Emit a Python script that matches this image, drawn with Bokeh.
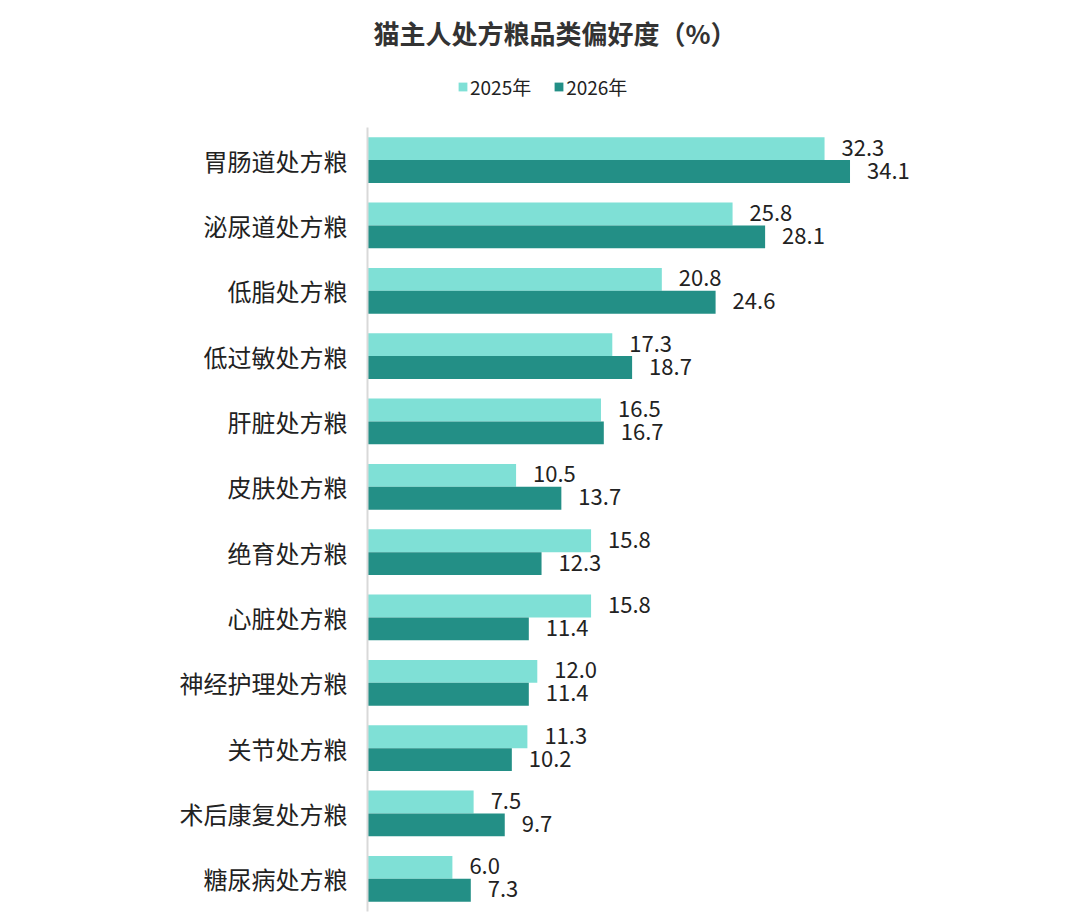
from bokeh.plotting import figure
from bokeh.models import ColumnDataSource, Range1d, Legend, LegendItem, FixedTicker
from bokeh.core.properties import value
from bokeh.embed import file_html
from bokeh.resources import INLINE

categories = ["胃肠道处方粮", "泌尿道处方粮", "低脂处方粮", "低过敏处方粮", "肝脏处方粮",
              "皮肤处方粮", "绝育处方粮", "心脏处方粮", "神经护理处方粮", "关节处方粮",
              "术后康复处方粮", "糖尿病处方粮"]
v2025 = [32.3, 25.8, 20.8, 17.3, 16.5, 10.5, 15.8, 15.8, 12.0, 11.3, 7.5, 6.0]
v2026 = [34.1, 28.1, 24.6, 18.7, 16.7, 13.7, 12.3, 11.4, 11.4, 10.2, 9.7, 7.3]
years = ["2025年", "2026年"]
colors = ["#7fe0d6", "#238f86"]

font = "Noto Sans CJK SC"

# category slots, first category on top
n = len(categories)
pos = [n - i - 0.5 for i in range(n)]
bar_h = 0.35

source = ColumnDataSource(dict(
    y25=[y + bar_h / 2 for y in pos],
    y26=[y - bar_h / 2 for y in pos],
    v2025=v2025,
    v2026=v2026,
    t2025=["%.1f" % v for v in v2025],
    t2026=["%.1f" % v for v in v2026],
))

# extra room above the bars for the legend
top_extra = 66 / 65.4167

p = figure(width=1064, height=914, output_backend="svg", toolbar_location=None,
           y_range=Range1d(0, n + top_extra), x_range=Range1d(0, 40),
           min_border_left=367, min_border_right=131, min_border_bottom=3, min_border_top=60)

r1 = p.hbar(y="y25", right="v2025", left=0, height=bar_h,
            fill_color=colors[0], line_color=None, source=source)
r2 = p.hbar(y="y26", right="v2026", left=0, height=bar_h,
            fill_color=colors[1], line_color=None, source=source)

p.text(x="v2025", y="y25", text="t2025", x_offset=17, y_offset=-1,
       text_baseline="middle", text_font=value(font), text_font_size="22px",
       text_color="#222222", source=source)
p.text(x="v2026", y="y26", text="t2026", x_offset=17, y_offset=-1,
       text_baseline="middle", text_font=value(font), text_font_size="22px",
       text_color="#222222", source=source)

# title
p.title.text = "猫主人处方粮品类偏好度（%）"
p.title.text_font = font
p.title.text_font_size = "26px"
p.title.text_font_style = "bold"
p.title.text_color = "#333333"
p.title.align = "left"
p.title.offset = 6
p.title.standoff = 22

legend = Legend(items=[LegendItem(label=years[0], renderers=[r1]),
                       LegendItem(label=years[1], renderers=[r2])],
                orientation="horizontal", location=(90, 811))
legend.label_text_font = font
legend.label_text_font_size = "19px"
legend.label_text_color = "#222222"
legend.glyph_width = 11
legend.glyph_height = 11
legend.label_standoff = 2
legend.spacing = 22
legend.padding = 0
legend.margin = 0
legend.border_line_color = None
legend.background_fill_alpha = 0
p.add_layout(legend)

p.xaxis.visible = False
p.xgrid.grid_line_color = None
p.ygrid.grid_line_color = None
p.outline_line_color = None

p.yaxis.ticker = FixedTicker(ticks=pos)
p.yaxis.major_label_overrides = {y: c for y, c in zip(pos, categories)}
p.yaxis.bounds = (0, n)
p.yaxis.axis_line_color = "#d9d9d9"
p.yaxis.axis_line_width = 2
p.yaxis.major_tick_line_color = None
p.yaxis.minor_tick_line_color = None
p.yaxis.major_label_standoff = 14
p.yaxis.major_label_text_font = font
p.yaxis.major_label_text_font_size = "24px"
p.yaxis.major_label_text_color = "#222222"

open("out.html", "w").write(file_html(p, INLINE))
